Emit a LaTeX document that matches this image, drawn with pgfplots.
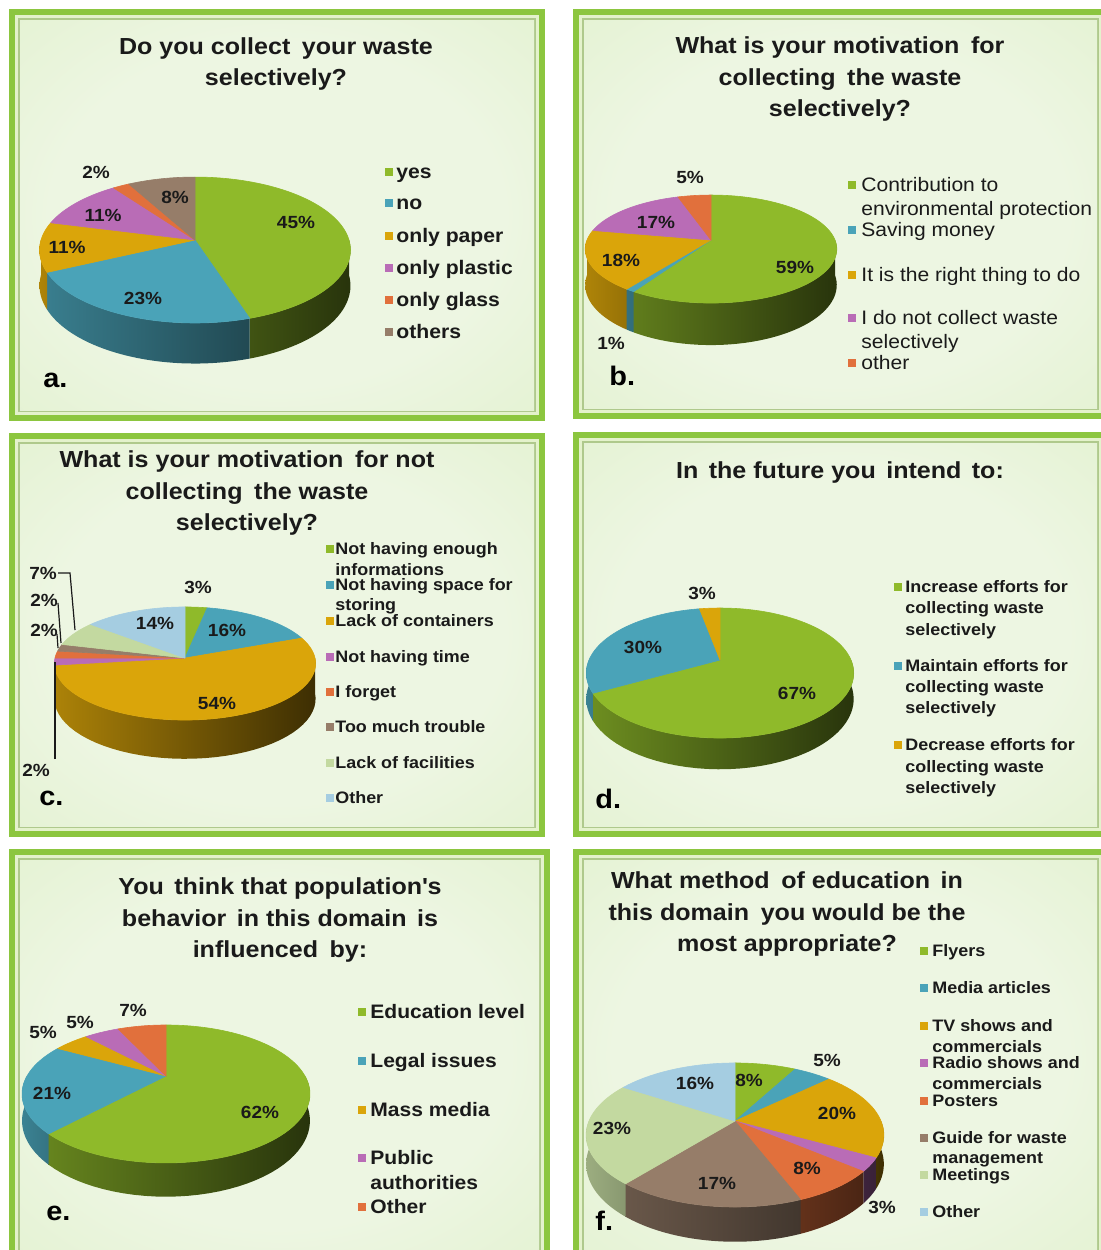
\documentclass[border=0pt]{standalone}
\usepackage{fontspec}
\setmainfont{Liberation Sans}[FakeStretch=1.08]
\usepackage{pgfplots}
\usepackage{pgfplotstable}
\pgfplotsset{compat=1.18}

\definecolor{cG}{HTML}{8FBA2A}
\definecolor{cB}{HTML}{4AA3B8}
\definecolor{cY}{HTML}{DAA50A}
\definecolor{cP}{HTML}{B96CB6}
\definecolor{cO}{HTML}{E1703C}
\definecolor{cBr}{HTML}{967D69}
\definecolor{cLG}{HTML}{C3D9A0}
\definecolor{cLB}{HTML}{A5CDE1}
\definecolor{frameG}{HTML}{8CC63F}
\definecolor{bandP}{HTML}{E4F2CC}
\definecolor{lineG}{HTML}{AFC98C}
\definecolor{bgIn}{HTML}{EDF6E2}
\definecolor{bgMid}{HTML}{DEEFC8}
\definecolor{bgOut}{HTML}{C9E49F}
\definecolor{txt}{HTML}{1A1A1A}
\pgfdeclareradialshading{panelbg}{\pgfpoint{0bp}{0bp}}{color(0bp)=(bgIn); color(22bp)=(bgIn); color(48bp)=(bgMid); color(72bp)=(bgOut)}

% ---------------- data ----------------
\pgfplotstableread{
value color
45 cG
23 cB
11 cY
11 cP
2 cO
8 cBr
}\tabA
\pgfplotstableread{
value color
59 cG
1 cB
18 cY
17 cP
5 cO
}\tabB
\pgfplotstableread{
value color
3 cG
16 cB
54 cY
2 cP
2 cO
2 cBr
7 cLG
14 cLB
}\tabC
\pgfplotstableread{
value color
67 cG
30 cB
3 cY
}\tabD
\pgfplotstableread{
value color
62 cG
21 cB
5 cY
5 cP
7 cO
}\tabE
\pgfplotstableread{
value color
8 cG
5 cB
20 cY
3 cP
8 cO
17 cBr
23 cLG
16 cLB
}\tabF

% #1 table, #2 cx, #3 apex y, #4 R, #5 Ry, #6 perspective, #7 depth
\newcommand\drawpie[7]{%
  \def\PX{#2}\def\PY{#3}\def\PR{#4}\def\PRy{#5}\def\PP{#6}\def\PD{#7}%
  \pgfplotstablegetrowsof{#1}%
  \pgfmathtruncatemacro\PN{\pgfplotsretval-1}%
  % side walls
  \gdef\cum{0}%
  \foreach \i in {0,...,\PN}{%
    \pgfplotstablegetelem{\i}{value}\of{#1}\let\pv\pgfplotsretval
    \pgfplotstablegetelem{\i}{color}\of{#1}\let\pc\pgfplotsretval
    \pgfmathsetmacro\aS{90-3.6*\cum}%
    \pgfmathsetmacro\aE{90-3.6*(\cum+\pv)}%
    \pgfmathsetmacro\hi{min(\aS,0)}%
    \pgfmathsetmacro\lo{max(\aE,-180)}%
    \pgfmathtruncatemacro\vis{\hi>\lo+0.01 ? 1 : 0}%
    \ifnum\vis=1
      \pgfmathtruncatemacro\mL{54-26*cos(\lo)}%
      \pgfmathtruncatemacro\mR{54-26*cos(\hi)}%
      \edef\doit{\noexpand\addplot[draw=none, left color=\pc!\mL!black, right color=\pc!\mR!black,
        domain=0:3, samples=121, variable=\noexpand\ss]
        ({\PX+\PR*cos(tw(\noexpand\ss,\lo,\hi))/(1+\PP*sin(tw(\noexpand\ss,\lo,\hi)))},
         {\PY+(-\PRy*sin(tw(\noexpand\ss,\lo,\hi))+dw(\noexpand\ss,\PD))/(1+\PP*sin(tw(\noexpand\ss,\lo,\hi)))});}%
      \doit
    \fi
    \pgfmathsetmacro\nc{\cum+\pv}\xdef\cum{\nc}%
  }%
  % top faces
  \gdef\cum{0}%
  \foreach \i in {0,...,\PN}{%
    \pgfplotstablegetelem{\i}{value}\of{#1}\let\pv\pgfplotsretval
    \pgfplotstablegetelem{\i}{color}\of{#1}\let\pc\pgfplotsretval
    \pgfmathsetmacro\aS{90-3.6*\cum}%
    \pgfmathsetmacro\aE{90-3.6*(\cum+\pv)}%
    \pgfmathtruncatemacro\ns{max(3,4*\pv)+1}%
    \edef\doit{\noexpand\addplot[fill=\pc, draw=\pc, line width=0.3pt, line join=round,
        domain=\aE:\aS, samples=\ns, variable=\noexpand\ang]
      ({\PX+\PR*cos(\noexpand\ang)/(1+\PP*sin(\noexpand\ang))},
       {\PY-\PRy*sin(\noexpand\ang)/(1+\PP*sin(\noexpand\ang))}) -- (axis cs:\PX,\PY) -- cycle;}%
    \doit
    \pgfmathsetmacro\nc{\cum+\pv}\xdef\cum{\nc}%
  }%
}

\newcommand\panel[4]{%
  \fill[frameG] (#1,#2) rectangle (#3,#4);
  \fill[bandP] (#1+6,#2+6) rectangle (#3-6,#4-6);
  \fill[lineG] (#1+9,#2+9) rectangle (#3-9,#4-9);
  \shade[shading=panelbg] (#1+11,#2+11) rectangle (#3-11,#4-11);
}
% legend item: swatch x, y, color, text x, baseline offset, text
\newcommand\leg[6]{%
  \fill[#3] (#1,#2-4) rectangle ++(8,8);
  \node[anchor=base west, inner sep=0pt, text=txt] at (#4,#2+#5) {#6};
}
\newcommand\legt[3]{\node[anchor=base west, inner sep=0pt, text=txt] at (#1,#2) {#3};}
\newcommand\pct[2]{\node[font=\fontsize{8.8}{10}\selectfont\bfseries, text=txt, inner sep=0pt] at (#1) {#2\%};}
\newcommand\ttl[2]{\node[font=\fontsize{11.6}{15.75}\selectfont\bfseries, text=txt, align=center, inner sep=0pt] at (#1) {#2};}
\newcommand\plet[2]{\node[font=\fontsize{13.4}{15}\selectfont\bfseries, text=black, anchor=base west, inner sep=0pt] at (#1) {#2};}

\begin{document}
\begin{tikzpicture}[x=0.5pt,y=-0.5pt]
\useasboundingbox (0,0) rectangle (1100,1250);
\fill[white] (0,0) rectangle (1100,1250);
\panel{9}{9}{545}{421}
\panel{573}{9}{1108}{419}
\panel{9}{433}{545}{837}
\panel{573}{432}{1108}{837}
\panel{9}{849}{550}{1262}
\panel{573}{849}{1108}{1262}

\begin{axis}[at={(0,0)}, anchor=north west, width=550pt, height=625pt, scale only axis,
  xmin=0, xmax=1100, ymin=0, ymax=1250, y dir=reverse, hide axis, clip=false, no markers,
  declare function={
    tw(\tS,\tA,\tB)=ifthenelse((\tS)<1,(\tB)+((\tA)-(\tB))*(\tS),ifthenelse((\tS)<2,(\tA),(\tA)+((\tB)-(\tA))*((\tS)-2)));
    dw(\tS,\tD)=ifthenelse((\tS)<1,0,ifthenelse((\tS)<2,(\tD)*((\tS)-1),(\tD)));
  }]
\drawpie{\tabA}{195}{240}{154}{71.6}{0.137}{35}
\drawpie{\tabB}{711}{240}{124}{52.5}{0.167}{35}
\drawpie{\tabC}{185}{658}{130}{56}{0.097}{35}
\drawpie{\tabD}{720}{660}{131}{62.4}{0.2}{25}
\drawpie{\tabE}{166}{1076}{139}{64.3}{0.26}{25}
\drawpie{\tabF}{735}{1121}{146}{69.3}{0.194}{28}
\end{axis}

% ---------- titles ----------
\ttl{276,64}{Do you collect\hspace{0.2em} your waste\\selectively?}
\ttl{840,79}{What is your motivation\hspace{0.2em} for\\collecting\hspace{0.2em} the waste\\selectively?}
\ttl{247,493}{What is your motivation\hspace{0.2em} for not\\collecting\hspace{0.2em} the waste\\selectively?}
\ttl{840,472}{In\hspace{0.15em} the future you\hspace{0.15em} intend\hspace{0.15em} to:}
\ttl{280,920}{You\hspace{0.15em} think that population\textquotesingle s\\behavior\hspace{0.15em} in this domain\hspace{0.15em} is\\influenced\hspace{0.2em} by:}
\ttl{787,914}{What method\hspace{0.2em} of education\hspace{0.15em} in\\this domain\hspace{0.2em} you would be the\\most appropriate?}

% ---------- percentage labels ----------
\pct{96,172}{2}\pct{175,197}{8}\pct{103,215}{11}\pct{296,222}{45}\pct{67,247}{11}\pct{143,298}{23}
\pct{690,177}{5}\pct{656,222}{17}\pct{621,260}{18}\pct{795,267}{59}\pct{611,343}{1}
\pct{43,573}{7}\pct{44,600}{2}\pct{44,630}{2}\pct{198,587}{3}\pct{155,623}{14}\pct{227,630}{16}\pct{217,703}{54}\pct{36,770}{2}
\pct{702,593}{3}\pct{643,647}{30}\pct{797,693}{67}
\pct{43,1032}{5}\pct{80,1022}{5}\pct{133,1010}{7}\pct{52,1093}{21}\pct{260,1112}{62}
\pct{695,1083}{16}\pct{749,1080}{8}\pct{827,1060}{5}\pct{837,1113}{20}\pct{612,1128}{23}\pct{717,1183}{17}\pct{807,1168}{8}\pct{882,1207}{3}
% leader lines (c)
\draw[txt, line width=0.6pt] (58,573)--(70,573)--(75,630);
\draw[txt, line width=0.6pt] (58,603)--(61,643);
\draw[txt, line width=0.6pt] (57,634)--(58,648);
\draw[txt, line width=0.6pt] (55,759)--(55,662);

% ---------- panel letters ----------
\plet{43,387}{a.}\plet{609,385}{b.}\plet{39,805}{c.}\plet{595,808}{d.}\plet{46,1220}{e.}\plet{595,1230}{f.}

% ---------- legends ----------
\begin{scope}[every node/.append style={font=\fontsize{9.8}{11}\selectfont\bfseries}]
\leg{385}{172}{cG}{396}{6}{yes}
\leg{385}{203}{cB}{396}{6}{no}
\leg{385}{236}{cY}{396}{6}{only paper}
\leg{385}{268}{cP}{396}{6}{only plastic}
\leg{385}{300}{cO}{396}{6}{only glass}
\leg{385}{332}{cBr}{396}{6}{others}
\end{scope}
\begin{scope}[every node/.append style={font=\fontsize{9.75}{11}\selectfont}]
\leg{848}{185}{cG}{861}{6}{Contribution to}
\legt{861}{215}{environmental protection}
\leg{848}{230}{cB}{861}{6}{Saving money}
\leg{848}{275}{cY}{861}{6}{It is the right thing to do}
\leg{848}{318}{cP}{861}{6}{I do not collect waste}
\legt{861}{348}{selectively}
\leg{848}{363}{cO}{861}{6}{other}
\end{scope}
\begin{scope}[every node/.append style={font=\fontsize{8.3}{10}\selectfont\bfseries}]
\leg{326}{549}{cG}{335}{5}{Not having enough}
\legt{335}{575}{informations}
\leg{326}{585}{cB}{335}{5}{Not having space for}
\legt{335}{610}{storing}
\leg{326}{621}{cY}{335}{5}{Lack of containers}
\leg{326}{657}{cP}{335}{5}{Not having time}
\leg{326}{692}{cO}{335}{5}{I forget}
\leg{326}{727}{cBr}{335}{5}{Too much trouble}
\leg{326}{763}{cLG}{335}{5}{Lack of facilities}
\leg{326}{798}{cLB}{335}{5}{Other}
\end{scope}
\begin{scope}[every node/.append style={font=\fontsize{8.3}{10}\selectfont\bfseries}]
\leg{894}{587}{cG}{905}{5}{Increase efforts for}
\legt{905}{613}{collecting waste}
\legt{905}{635}{selectively}
\leg{894}{666}{cB}{905}{5}{Maintain efforts for}
\legt{905}{692}{collecting waste}
\legt{905}{713}{selectively}
\leg{894}{745}{cY}{905}{5}{Decrease efforts for}
\legt{905}{772}{collecting waste}
\legt{905}{793}{selectively}
\end{scope}
\begin{scope}[every node/.append style={font=\fontsize{9.75}{11}\selectfont\bfseries}]
\leg{358}{1012}{cG}{370}{6}{Education level}
\leg{358}{1061}{cB}{370}{6}{Legal issues}
\leg{358}{1110}{cY}{370}{6}{Mass media}
\leg{358}{1158}{cP}{370}{6}{Public}
\legt{370}{1189}{authorities}
\leg{358}{1207}{cO}{370}{6}{Other}
\end{scope}
\begin{scope}[every node/.append style={font=\fontsize{8.3}{10}\selectfont\bfseries}]
\leg{920}{951}{cG}{932}{5}{Flyers}
\leg{920}{988}{cB}{932}{5}{Media articles}
\leg{920}{1026}{cY}{932}{5}{TV shows and}
\legt{932}{1052}{commercials}
\leg{920}{1063}{cP}{932}{5}{Radio shows and}
\legt{932}{1089}{commercials}
\leg{920}{1101}{cO}{932}{5}{Posters}
\leg{920}{1138}{cBr}{932}{5}{Guide for waste}
\legt{932}{1163}{management}
\leg{920}{1175}{cLG}{932}{5}{Meetings}
\leg{920}{1212}{cLB}{932}{5}{Other}
\end{scope}
\end{tikzpicture}
\end{document}
